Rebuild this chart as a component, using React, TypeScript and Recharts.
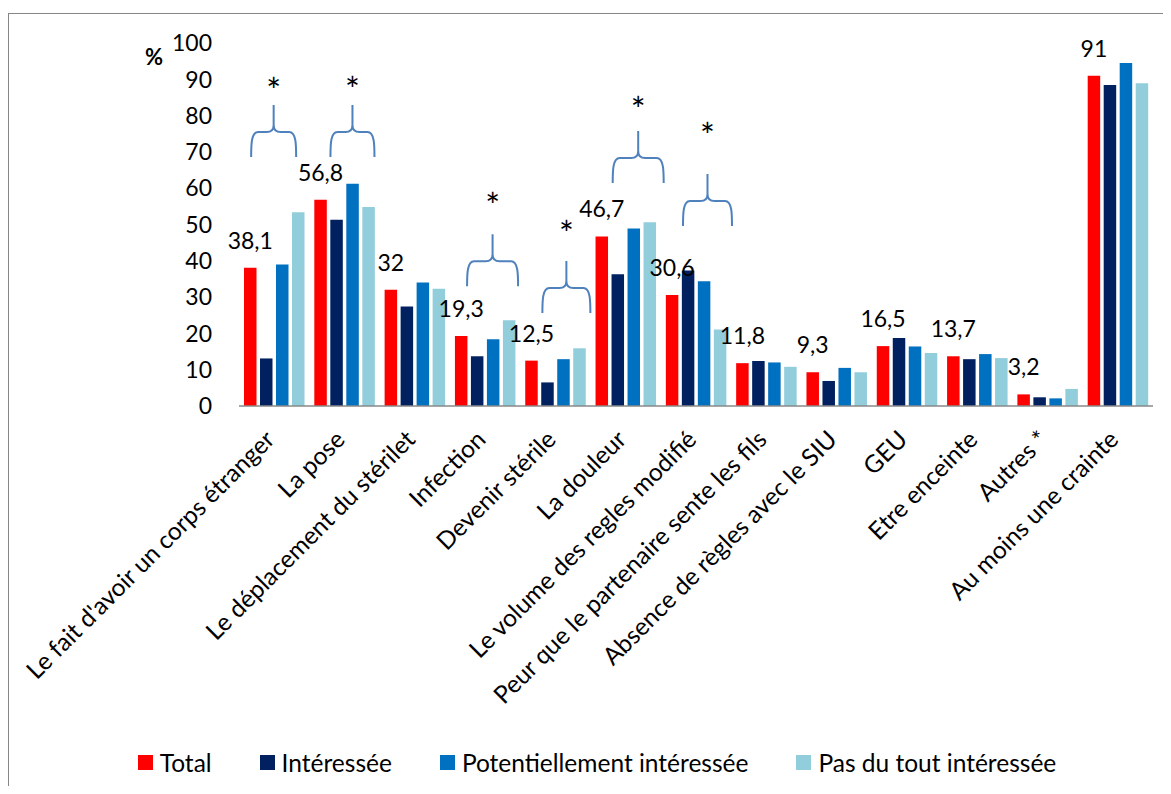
import React from 'react';
import { BarChart, Bar, XAxis, YAxis, LabelList, Legend, ReferenceDot } from 'recharts';

const categories = [
  "Le fait d'avoir un corps étranger",
  'La pose',
  'Le déplacement du stérilet',
  'Infection',
  'Devenir stérile',
  'La douleur',
  'Le volume des regles modifié',
  'Peur que le partenaire sente les fils',
  'Absence de règles avec le SIU',
  'GEU',
  'Etre enceinte',
  'Autres *',
  'Au moins une crainte',
];
const total = [38.1, 56.8, 32, 19.3, 12.5, 46.7, 30.6, 11.8, 9.3, 16.5, 13.7, 3.2, 91];
const interessee = [13.1, 51.3, 27.4, 13.7, 6.5, 36.3, 37.3, 12.4, 6.9, 18.7, 12.9, 2.4, 88.4];
const potentiellement = [39.0, 61.2, 34.0, 18.4, 12.9, 48.9, 34.4, 12.0, 10.5, 16.4, 14.3, 2.1, 94.5];
const pasDuTout = [53.4, 54.8, 32.3, 23.6, 15.9, 50.6, 21.1, 10.8, 9.3, 14.6, 13.2, 4.7, 88.9];
const yTicks = [0, 10, 20, 30, 40, 50, 60, 70, 80, 90, 100];

// significance annotations: category index, value at brace foot, value at asterisk
const braceCategory = [0, 1, 3, 4, 5, 6];
const braceFootValue = [68.6, 68.6, 33, 25.6, 61.4, 49.6];
const braceStarValue = [89, 89.3, 57.3, 49.6, 83.7, 76.6];
// horizontal extent of each brace (pixels relative to category centre)
const braceLeftPx = [-23, -14, -18, -13, -13, -13];
const braceRightPx = [22, 30, 33, 35, 38, 36];

const seriesNames = ['Total', 'Intéressée', 'Potentiellement intéressée', 'Pas du tout intéressée'];
const seriesKeys = ['total', 'interessee', 'potentiellement', 'pasDuTout'];
const seriesColors = ['#FF0000', '#002060', '#0070C0', '#92CDDC'];

const data = categories.map((name, i) => ({
  name,
  total: total[i],
  interessee: interessee[i],
  potentiellement: potentiellement[i],
  pasDuTout: pasDuTout[i],
}));

const FONT = 'Lato, "Noto Sans", sans-serif';
const FS = 23;
const FS_TEXT = 24.5;

const XTick = (props: any) => {
  const { x, y, payload } = props;
  return (
    <g transform={`translate(${x + 2},${y + 35})`}>
      <text transform="rotate(-45)" textAnchor="end" fontFamily={FONT} fontSize={FS_TEXT} fill="#000">
        {payload.value}
      </text>
    </g>
  );
};

const YTick = (props: any) => {
  const { x, y, payload } = props;
  return (
    <text x={x} y={y} dy="0.36em" textAnchor="end" fontFamily={FONT} fontSize={FS} fill="#000">
      {payload.value}
    </text>
  );
};

const TotalLabel = (props: any) => {
  const { x, y, width, value } = props;
  return (
    <text x={x + width / 2} y={y - 19} textAnchor="middle" fontFamily={FONT} fontSize={FS} fill="#000">
      {String(value).replace('.', ',')}
    </text>
  );
};

const makeBrace = (left: number, right: number) => (p: any) => {
  const { cx, cy } = p;
  const xL = cx + left;
  const xR = cx + right;
  const xM = (xL + xR) / 2;
  const yB = cy;
  const yH = cy - 25;
  const yT = cy - 52;
  const r = 7;
  const d = `M${xL},${yB} C${xL},${yB - 12} ${xL},${yH} ${xL + r},${yH} L${xM - r},${yH} Q${xM},${yH} ${xM},${yH - r} L${xM},${yT} M${xM},${yH - r} Q${xM},${yH} ${xM + r},${yH} L${xR - r},${yH} C${xR},${yH} ${xR},${yB - 12} ${xR},${yB}`;
  return <path d={d} fill="none" stroke="#4F81BD" strokeWidth={2} />;
};

const makeStar = (offset: number) => (p: any) => {
  const { cx, cy } = p;
  return (
    <text x={cx + offset} y={cy + 20} textAnchor="middle" fontFamily={FONT} fontSize={35} fill="#000">
      *
    </text>
  );
};

const LegendContent = () => (
  <div
    style={{
      display: 'flex',
      justifyContent: 'center',
      alignItems: 'center',
      height: 30,
      width: 1162,
      fontFamily: FONT,
      fontSize: FS_TEXT,
      color: '#000',
      paddingLeft: 14,
      boxSizing: 'border-box',
    }}
  >
    {seriesNames.map((n, i) => (
      <div key={n} style={{ display: 'flex', alignItems: 'center', marginRight: i < 3 ? 48 : 0 }}>
        <span style={{ width: 15, height: 15, background: seriesColors[i], display: 'inline-block', marginRight: 7 }} />
        <span>{n}</span>
      </div>
    ))}
  </div>
);

export default function App() {
  return (
    <div style={{ paddingTop: 5 }}>
      <div
        style={{
          position: 'relative',
          width: 1163,
          height: 773,
          borderTop: '1px solid #868686',
          borderLeft: '1px solid #868686',
          boxSizing: 'border-box',
          background: '#fff',
        }}
      >
        <span
          style={{
            position: 'absolute',
            left: 136,
            top: 29,
            fontFamily: FONT,
            fontWeight: 'bold',
            fontSize: 22,
            lineHeight: '28px',
          }}
        >
          %
        </span>
        <BarChart
          width={1162}
          height={772}
          data={data}
          margin={{ top: 29, right: 18, left: 0, bottom: 9 }}
          barSize={12.5}
          barGap={3.5}
        >
          <XAxis
            dataKey="name"
            interval={0}
            tickLine={false}
            tickSize={0}
            tickMargin={0}
            axisLine={{ stroke: '#888888', strokeWidth: 1.5 }}
            height={341}
            tick={<XTick />}
          />
          <YAxis
            type="number"
            domain={[0, 100]}
            ticks={yTicks}
            interval={0}
            axisLine={false}
            tickLine={false}
            tickSize={0}
            tickMargin={27}
            width={230}
            tick={<YTick />}
          />
          <Legend verticalAlign="bottom" height={30} wrapperStyle={{ left: 0, width: 1162 }} content={<LegendContent />} />
          {seriesKeys.map((k, i) => (
            <Bar key={k} dataKey={k} name={seriesNames[i]} fill={seriesColors[i]} isAnimationActive={false}>
              {i === 0 ? <LabelList dataKey="total" content={<TotalLabel />} /> : null}
            </Bar>
          ))}
          {braceCategory.map((ci, j) => (
            <ReferenceDot
              key={`brace${j}`}
              x={categories[ci]}
              y={braceFootValue[j]}
              ifOverflow="visible"
              shape={makeBrace(braceLeftPx[j], braceRightPx[j])}
            />
          ))}
          {braceCategory.map((ci, j) => (
            <ReferenceDot
              key={`star${j}`}
              x={categories[ci]}
              y={braceStarValue[j]}
              ifOverflow="visible"
              shape={makeStar((braceLeftPx[j] + braceRightPx[j]) / 2)}
            />
          ))}
        </BarChart>
      </div>
    </div>
  );
}
